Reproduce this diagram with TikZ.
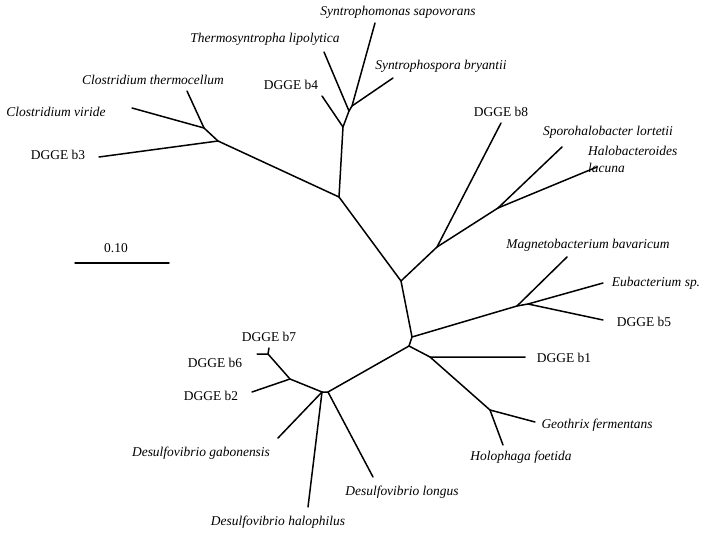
\documentclass[tikz,border=0pt]{standalone}
\usepackage{fontspec}
\setmainfont{Liberation Serif}
\begin{document}
\begin{tikzpicture}[x=1bp,y=-1bp,
  br/.style={line width=1.5bp,line cap=round,line join=round},
  lab/.style={inner sep=0pt,font=\fontsize{13.5}{16}\selectfont},
  sp/.style={lab,font=\fontsize{13.5}{16}\selectfont\itshape}]
\useasboundingbox (0,0) rectangle (704,535);
% internal nodes
\coordinate (A) at (339,197);
\coordinate (B) at (401,281);
\coordinate (E) at (412,337);
\coordinate (F) at (409,346);
\coordinate (C2) at (218,141);
\coordinate (C1) at (204,128);
\coordinate (S1) at (343,127);
\coordinate (S2) at (349,111);
\coordinate (S3) at (352,106);
\coordinate (D1) at (437,247);
\coordinate (D2) at (498,208);
\coordinate (M1) at (517,306);
\coordinate (M2) at (528,304);
\coordinate (G1) at (430,357);
\coordinate (G2) at (490,410);
\coordinate (H2) at (328,392);
\coordinate (H1) at (322,392);
\coordinate (J) at (290,379);
\coordinate (K) at (268,354);
% tips
\coordinate (tThermo) at (187,91);
\coordinate (tViride) at (132,108);
\coordinate (tB3) at (99,157);
\coordinate (tB4) at (322,96);
\coordinate (tThs) at (324,52);
\coordinate (tSap) at (375,23);
\coordinate (tBry) at (393,78);
\coordinate (tB8) at (501,123);
\coordinate (tSpo) at (562,147);
\coordinate (tHal) at (597,167);
\coordinate (tMag) at (567,257);
\coordinate (tEub) at (603,283);
\coordinate (tB5) at (603,320);
\coordinate (tB1) at (525,357);
\coordinate (tGeo) at (535,422);
\coordinate (tHol) at (503,445);
\coordinate (tLon) at (373,477);
\coordinate (tHph) at (308,507);
\coordinate (tGab) at (278,438);
\coordinate (tB2) at (252,392);
\coordinate (tB6) at (257,354);
\coordinate (tB7) at (269,348);
\coordinate (sb1) at (75,263);
\coordinate (sb2) at (169,263);
% branches
\draw[br] (A) -- (B) -- (E) -- (F);
\draw[br] (A) -- (C2) -- (C1) -- (tThermo);
\draw[br] (C1) -- (tViride);
\draw[br] (C2) -- (tB3);
\draw[br] (A) -- (S1) -- (S2) -- (S3) -- (tSap);
\draw[br] (S1) -- (tB4);
\draw[br] (S2) -- (tThs);
\draw[br] (S3) -- (tBry);
\draw[br] (B) -- (D1) -- (tB8);
\draw[br] (D1) -- (D2) -- (tSpo);
\draw[br] (D2) -- (tHal);
\draw[br] (E) -- (M1) -- (M2) -- (tEub);
\draw[br] (M1) -- (tMag);
\draw[br] (M2) -- (tB5);
\draw[br] (F) -- (G1) -- (tB1);
\draw[br] (G1) -- (G2) -- (tGeo);
\draw[br] (G2) -- (tHol);
\draw[br] (F) -- (H2) -- (H1);
\draw[br] (H2) -- (tLon);
\draw[br] (H1) -- (tHph);
\draw[br] (H1) -- (tGab);
\draw[br] (H1) -- (J) -- (tB2);
\draw[br] (J) -- (K) -- (tB6);
\draw[br] (K) -- (tB7);
\draw[br] (sb1) -- (sb2);
% labels
\node[sp] (l1) at (398,12) {Syntrophomonas sapovorans};
\node[sp] (l2) at (265,39) {Thermosyntropha lipolytica};
\node[sp] (l3) at (441,66) {Syntrophospora bryantii};
\node[lab] (l4) at (291,85) {DGGE b4};
\node[sp] (l5) at (153,80) {Clostridium thermocellum};
\node[sp] (l6) at (56,112) {Clostridium viride};
\node[lab] (l7) at (58,155) {DGGE b3};
\node[lab] (l8) at (501,112) {DGGE b8};
\node[sp] (l9) at (608,132) {Sporohalobacter lortetii};
\node[sp,anchor=west] (l10) at (588,151) {Halobacteroides};
\node[sp,anchor=west] (l11) at (588,168) {lacuna};
\node[sp] (l12) at (588,245) {Magnetobacterium bavaricum};
\node[sp] (l13) at (656,283) {Eubacterium sp.};
\node[lab] (l14) at (644,322) {DGGE b5};
\node[lab] (l15) at (564,358) {DGGE b1};
\node[sp] (l16) at (597,425) {Geothrix fermentans};
\node[sp] (l17) at (521,457) {Holophaga foetida};
\node[lab] (l18) at (269,337) {DGGE b7};
\node[lab] (l19) at (215,363) {DGGE b6};
\node[lab] (l20) at (211,396) {DGGE b2};
\node[sp] (l21) at (201,453) {Desulfovibrio gabonensis};
\node[sp] (l22) at (278,522) {Desulfovibrio halophilus};
\node[sp] (l23) at (402,492) {Desulfovibrio longus};
\node[lab] (l24) at (116,248) {0.10};
\end{tikzpicture}
\end{document}
